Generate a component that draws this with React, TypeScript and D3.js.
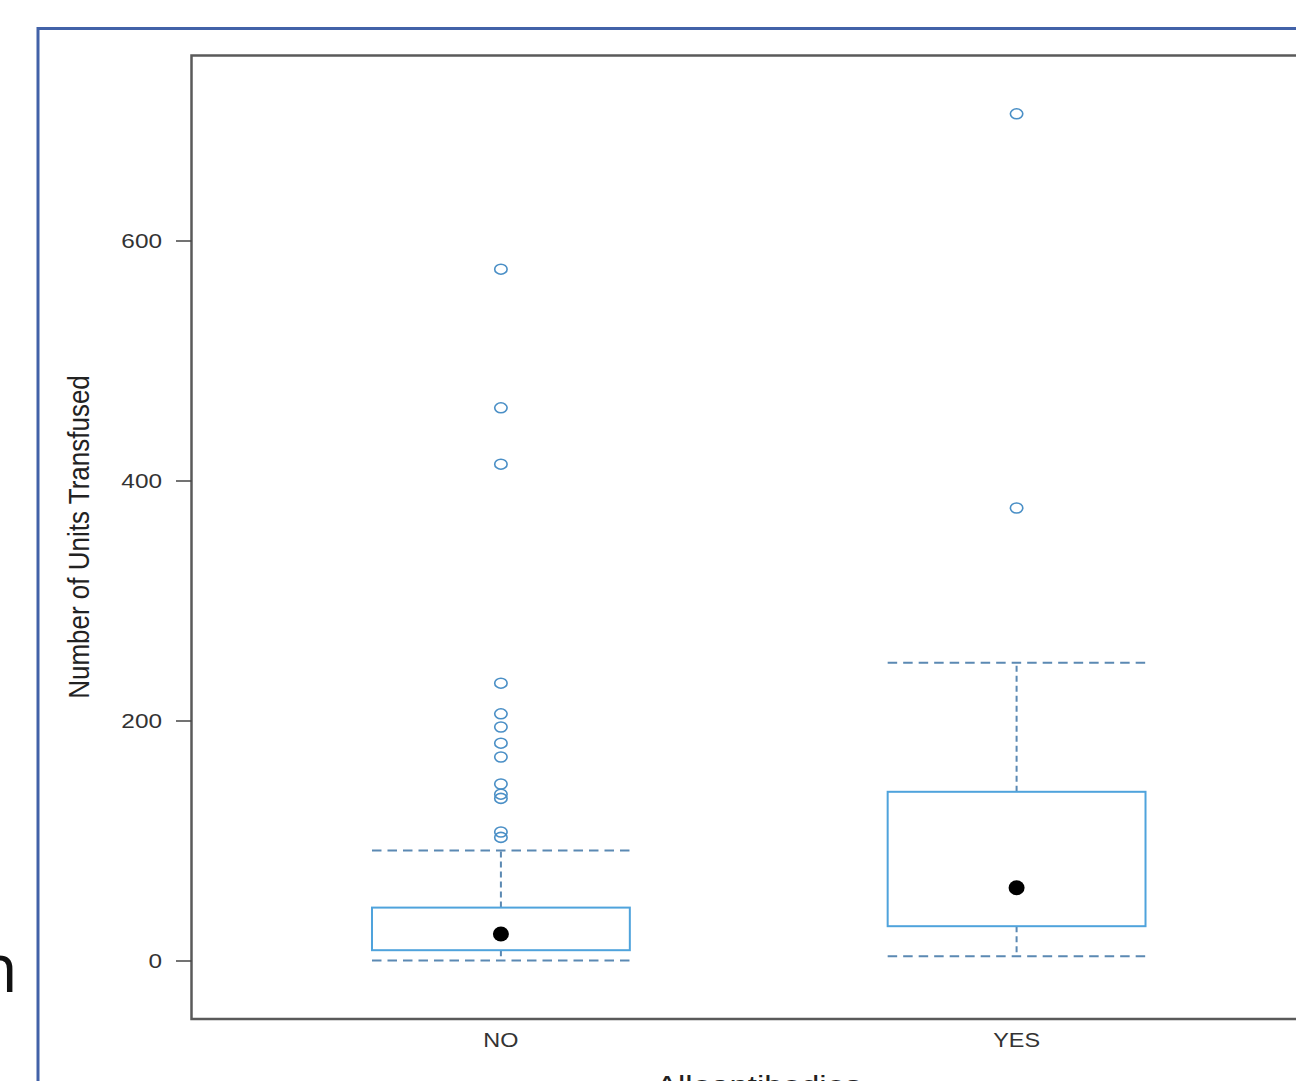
import React from "react";
import * as d3 from "d3";

const categories = ["NO", "YES"];
const whiskerLow = [0.5, 4];
const q1 = [9, 29];
const median = [22.5, 61];
const q3 = [44.5, 141];
const whiskerHigh = [92, 248.5];
const outliersNO = [103, 107.5, 135.5, 139, 147.5, 170, 181.5, 195, 206, 231.5, 414, 461, 576.5];
const outliersYES = [377.5, 706];
const outliers = [outliersNO, outliersYES];
const yTicks = [0, 200, 400, 600];
const yTitle = "Number of Units Transfused";
const xTitle = "Alloantibodies";

const W = 1296;
const H = 1081;
const frame = { left: 191.5, top: 55.5, right: 1326, bottom: 1019 };

export default function App() {
  const x = d3.scaleLinear().domain([0.4, 2.6]).range([frame.left, frame.right]);
  const y = d3.scaleLinear().domain([0, 600]).range([961, 241]);
  const halfBox = 0.25;

  const boxColor = "#4fa3dc";
  const whiskerColor = "#5b89b3";
  const outlierColor = "#4a8fc6";
  const textFont = "'Liberation Sans', Arial, Helvetica, sans-serif";

  return (
    <svg
      width={W}
      height={H}
      style={{ position: "absolute", left: 0, top: 0, background: "#fff" }}
    >
      {/* outer slide border */}
      <rect x={38} y={28.5} width={1400} height={1200} fill="none" stroke="#4262a8" strokeWidth={3} />
      {/* partial slide text */}
      <text x={18} y={992} fontFamily="'Open Sans', 'Noto Sans', sans-serif" fontSize={68} textAnchor="end" fill="#111">n</text>

      {/* plot frame */}
      <rect
        x={frame.left}
        y={frame.top}
        width={frame.right - frame.left}
        height={frame.bottom - frame.top}
        fill="none"
        stroke="#5a5a5a"
        strokeWidth={2.5}
      />

      {/* y axis ticks */}
      {yTicks.map((t) => (
        <g key={t}>
          <line x1={176} x2={frame.left} y1={y(t)} y2={y(t)} stroke="#444" strokeWidth={1.5} />
          <text
            transform={`translate(162, ${y(t) + 7}) scale(1.25,1)`}
            textAnchor="end"
            fontFamily={textFont}
            fontSize={19.5}
            fill="#333"
          >
            {t}
          </text>
        </g>
      ))}

      {/* y title */}
      <text
        transform={`translate(89, 537) scale(1.12,1) rotate(-90)`}
        textAnchor="middle"
        fontFamily={textFont}
        fontSize={26}
        fill="#222"
      >
        {yTitle}
      </text>

      {/* x category labels */}
      {categories.map((c, i) => (
        <text
          key={c}
          transform={`translate(${x(i + 1)}, 1047) scale(1.2,1)`}
          textAnchor="middle"
          fontFamily={textFont}
          fontSize={19.5}
          fill="#333"
        >
          {c}
        </text>
      ))}

      {/* x title (cut off) */}
      <text
        transform={`translate(${(x(1) + x(2)) / 2}, 1094) scale(1.27,1)`}
        textAnchor="middle"
        fontFamily={textFont}
        fontSize={26}
        fill="#222"
      >
        {xTitle}
      </text>

      {/* boxes */}
      {categories.map((c, i) => {
        const cx = x(i + 1);
        const xl = x(i + 1 - halfBox);
        const xr = x(i + 1 + halfBox);
        return (
          <g key={c}>
            {/* whiskers */}
            <line x1={cx} x2={cx} y1={y(q3[i])} y2={y(whiskerHigh[i])} stroke={whiskerColor} strokeWidth={2} strokeDasharray="6,4" />
            <line x1={cx} x2={cx} y1={y(q1[i])} y2={y(whiskerLow[i])} stroke={whiskerColor} strokeWidth={2} strokeDasharray="6,4" />
            <line x1={xl} x2={xr} y1={y(whiskerHigh[i])} y2={y(whiskerHigh[i])} stroke={whiskerColor} strokeWidth={2} strokeDasharray="9.5,6" />
            <line x1={xl} x2={xr} y1={y(whiskerLow[i])} y2={y(whiskerLow[i])} stroke={whiskerColor} strokeWidth={2} strokeDasharray="9.5,6" />
            {/* box */}
            <rect
              x={xl}
              y={y(q3[i])}
              width={xr - xl}
              height={y(q1[i]) - y(q3[i])}
              fill="none"
              stroke={boxColor}
              strokeWidth={2}
            />
            {/* median point */}
            <ellipse cx={cx} cy={y(median[i])} rx={8} ry={7.5} fill="#000" />
            {/* outliers */}
            {outliers[i].map((v, j) => (
              <ellipse key={j} cx={cx} cy={y(v)} rx={6.2} ry={5} fill="none" stroke={outlierColor} strokeWidth={1.6} />
            ))}
          </g>
        );
      })}
    </svg>
  );
}
